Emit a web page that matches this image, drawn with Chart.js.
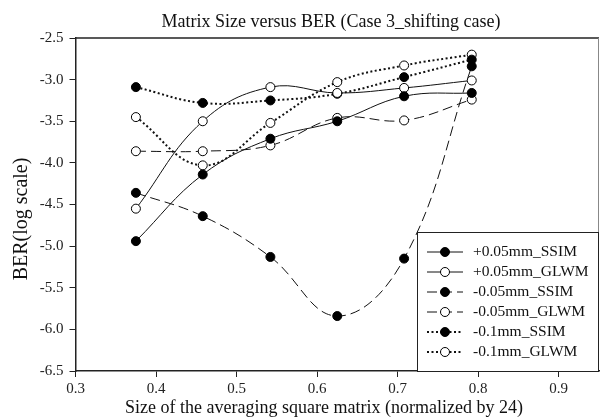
<!DOCTYPE html>
<html>
<head>
<meta charset="utf-8">
<script src="https://cdn.jsdelivr.net/npm/chart.js"></script>
<style>
  html, body { margin: 0; padding: 0; background: #fff; }
</style>
</head>
<body>
<canvas id="berChart" width="600" height="419"></canvas>
<script>
// matrix size, normalized by 24
var matrixSize = [0.375, 0.458, 0.542, 0.625, 0.708, 0.792];

// BER (log scale) per series
var plus005Ssim  = [-4.94, -4.14, -3.71, -3.50, -3.20, -3.16];
var plus005Glwm  = [-4.55, -3.50, -3.09, -3.16, -3.10, -3.01];
var minus005Ssim = [-4.36, -4.64, -5.13, -5.84, -5.15, -2.84];
var minus005Glwm = [-3.86, -3.86, -3.79, -3.46, -3.49, -3.24];
var minus01Ssim  = [-3.09, -3.28, -3.25, -3.17, -2.97, -2.76];
var minus01Glwm  = [-3.45, -4.03, -3.52, -3.03, -2.83, -2.70];

var xTicks = [0.3, 0.4, 0.5, 0.6, 0.7, 0.8, 0.9];

var FONT = "'Liberation Serif', 'Times New Roman', serif";

function series(label, ys, dash, filled, width) {
  return {
    label: label,
    data: matrixSize.map(function (x, i) { return { x: x, y: ys[i] }; }),
    borderColor: "#111",
    borderWidth: width,
    borderDash: dash,
    pointRadius: 4.5,
    pointHoverRadius: 4.5,
    pointBorderWidth: 1,
    pointBorderColor: "#000",
    pointBackgroundColor: filled ? "#000" : "#fff",
    tension: 0.4,
    fill: false,
  };
}

// 제목, 축 제목
var titles = {
  id: "titles",
  afterDraw: function (chart) {
    var ctx = chart.ctx;
    ctx.save();
    ctx.fillStyle = "#111";
    ctx.textAlign = "center";
    ctx.font = "18px " + FONT;
    ctx.textBaseline = "alphabetic";
    ctx.fillText("Matrix Size versus BER (Case 3_shifting case)", 331, 27);
    ctx.textBaseline = "middle";
    ctx.fillText("Size of the averaging square matrix (normalized by 24)", 324, 408);
    ctx.translate(22, 219);
    ctx.rotate(-Math.PI / 2);
    ctx.font = "20px " + FONT;
    ctx.fillText("BER(log scale)", 0, 0);
    ctx.restore();
  },
};

// 위, 오른쪽 테두리
var frame = {
  id: "frame",
  beforeDatasetsDraw: function (chart) {
    var ctx = chart.ctx, a = chart.chartArea;
    ctx.save();
    ctx.strokeStyle = "#222";
    ctx.lineWidth = 1.5;
    ctx.beginPath();
    ctx.moveTo(a.left, a.top);
    ctx.lineTo(a.right, a.top);
    ctx.stroke();
    ctx.lineWidth = 1;
    ctx.strokeStyle = "#888";
    ctx.beginPath();
    ctx.moveTo(a.right - 0.5, a.top);
    ctx.lineTo(a.right - 0.5, a.bottom);
    ctx.stroke();
    ctx.restore();
  },
};

// 범례 (그래프 안 오른쪽 아래)
var insideLegend = {
  id: "insideLegend",
  afterDraw: function (chart) {
    var ctx = chart.ctx, a = chart.chartArea;
    var boxL = a.right - 182, boxT = a.bottom - 139;
    ctx.save();
    ctx.fillStyle = "#fff";
    ctx.fillRect(boxL, boxT, a.right - boxL, a.bottom - boxT);
    ctx.strokeStyle = "#222";
    ctx.lineWidth = 1;
    ctx.strokeRect(boxL + 0.5, boxT + 0.5, a.right - boxL - 1, a.bottom - boxT);
    chart.data.datasets.forEach(function (ds, i) {
      var y = boxT + 20 + i * 20;
      ctx.strokeStyle = ds.borderColor;
      ctx.lineWidth = ds.borderWidth;
      ctx.setLineDash(ds.borderDash || []);
      ctx.beginPath();
      ctx.moveTo(boxL + 10, y);
      ctx.lineTo(boxL + 46, y);
      ctx.stroke();
      ctx.setLineDash([]);
      ctx.lineWidth = 1;
      ctx.strokeStyle = "#000";
      ctx.fillStyle = ds.pointBackgroundColor;
      ctx.beginPath();
      ctx.arc(boxL + 28, y, 4.5, 0, Math.PI * 2);
      ctx.fill();
      ctx.stroke();
      ctx.fillStyle = "#111";
      ctx.font = "15.5px " + FONT;
      ctx.textAlign = "left";
      ctx.textBaseline = "middle";
      ctx.fillText(ds.label, boxL + 56, y);
    });
    ctx.restore();
  },
};

var ctx = document.getElementById("berChart").getContext("2d");
var chart = new Chart(ctx, {
  type: "line",
  data: {
    datasets: [
      series("+0.05mm_SSIM", plus005Ssim, [], true, 1),
      series("+0.05mm_GLWM", plus005Glwm, [], false, 1),
      series("-0.05mm_SSIM", minus005Ssim, [10, 5], true, 1),
      series("-0.05mm_GLWM", minus005Glwm, [10, 5], false, 1),
      series("-0.1mm_SSIM", minus01Ssim, [2, 2.5], true, 2),
      series("-0.1mm_GLWM", minus01Glwm, [2, 2.5], false, 2),
    ],
  },
  options: {
    responsive: false,
    animation: false,
    layout: { autoPadding: false, padding: { top: 38, right: 1, left: 0, bottom: 0 } },
    plugins: {
      legend: { display: false },
      title: { display: false },
      tooltip: { enabled: false },
    },
    scales: {
      x: {
        type: "linear",
        min: 0.3,
        max: 0.95,
        afterBuildTicks: function (scale) {
          scale.ticks = xTicks.map(function (v) { return { value: v }; });
        },
        afterFit: function (scale) {
          scale.height = 48;
          scale.paddingLeft = 0;
          scale.paddingRight = 0;
        },
        grid: { drawOnChartArea: false, tickLength: 6, color: "#222" },
        border: { color: "#222", width: 1.5 },
        ticks: {
          padding: 3,
          color: "#222",
          font: { family: FONT, size: 15 },
          callback: function (v) { return v.toFixed(1); },
        },
      },
      y: {
        min: -6.5,
        max: -2.5,
        afterFit: function (scale) { scale.width = 75.5; },
        grid: { drawOnChartArea: false, tickLength: 6, color: "#222" },
        border: { color: "#222", width: 1.5 },
        ticks: {
          stepSize: 0.5,
          padding: 6,
          color: "#222",
          font: { family: FONT, size: 15 },
          callback: function (v) { return v.toFixed(1); },
        },
      },
    },
  },
  plugins: [frame, insideLegend, titles],
});
</script>
</body>
</html>
